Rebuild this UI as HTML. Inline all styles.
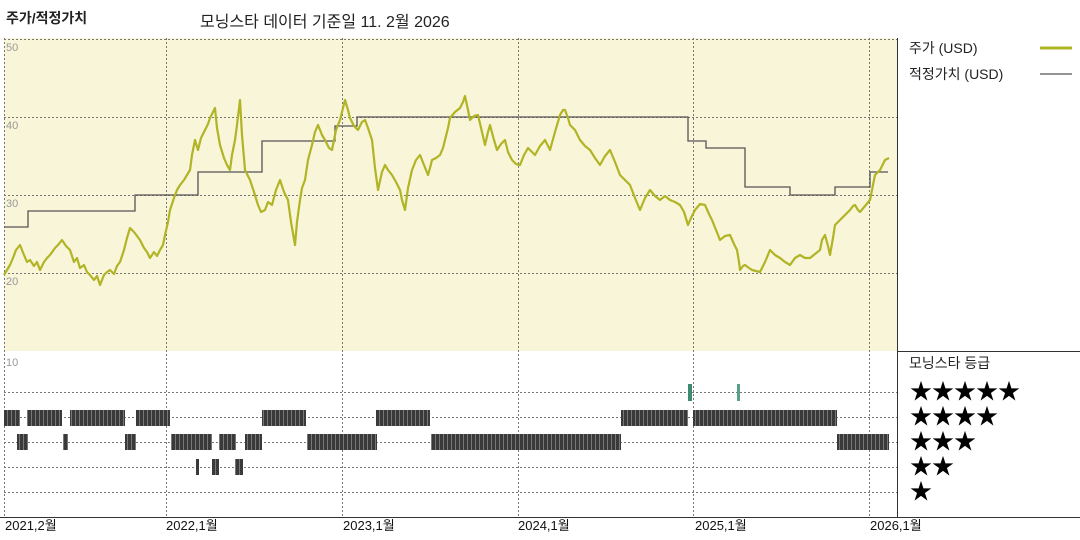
<!DOCTYPE html>
<html><head><meta charset="utf-8"><style>
body{margin:0;width:1080px;height:540px;background:#fff;overflow:hidden;font-family:"Liberation Sans","Noto Sans CJK KR",sans-serif}
</style></head><body>
<svg width="1080" height="540" xmlns="http://www.w3.org/2000/svg" style="position:absolute;left:0;top:0;font-family:'Liberation Sans','Noto Sans CJK KR',sans-serif">
<defs>
<pattern id="st" width="4" height="20" patternUnits="userSpaceOnUse"><rect width="4" height="20" fill="#3a3a3a"/><rect x="3" width="1" height="20" fill="#777"/></pattern>
</defs>
<text x="6" y="23" font-size="14" font-weight="bold" fill="#222">주가/적정가치</text>
<text x="200" y="27" font-size="16" fill="#222">모닝스타 데이터 기준일 11. 2월 2026</text>
<rect x="4" y="38" width="893" height="313" fill="#f8f5d8"/>
<g stroke="#777" stroke-dasharray="2,2" stroke-width="1" fill="none">
<line x1="4" y1="39.5" x2="897" y2="39.5"/><line x1="4" y1="117.5" x2="897" y2="117.5"/><line x1="4" y1="195.5" x2="897" y2="195.5"/><line x1="4" y1="273.5" x2="897" y2="273.5"/>
<line x1="4.5" y1="38" x2="4.5" y2="517"/>
<line x1="166.5" y1="38" x2="166.5" y2="517"/><line x1="342.5" y1="38" x2="342.5" y2="517"/><line x1="518.5" y1="38" x2="518.5" y2="517"/><line x1="693.5" y1="38" x2="693.5" y2="517"/><line x1="869.5" y1="38" x2="869.5" y2="517"/>
<line x1="4" y1="392.5" x2="897" y2="392.5"/><line x1="4" y1="417.5" x2="897" y2="417.5"/><line x1="4" y1="442.5" x2="897" y2="442.5"/><line x1="4" y1="467.5" x2="897" y2="467.5"/><line x1="4" y1="492.5" x2="897" y2="492.5"/>
</g>
<g font-size="11" fill="#999"><text x="6" y="51">50</text><text x="6" y="129">40</text><text x="6" y="207">30</text><text x="6" y="285">20</text><text x="6" y="366">10</text></g>
<line x1="897.5" y1="38" x2="897.5" y2="517" stroke="#333"/>
<line x1="897" y1="351.5" x2="1080" y2="351.5" stroke="#333"/>
<line x1="0" y1="517.5" x2="1080" y2="517.5" stroke="#333"/>
<polyline fill="none" stroke="#555" stroke-width="1.3" points="4,227 28,227 28,211 135,211 135,195 198,195 198,172 262,172 262,141 335,141 335,126 357,126 357,117 688,117 688,141 706,141 706,148 745,148 745,187 790,187 790,195 835,195 835,187 870,187 870,172 888,172"/>
<polyline fill="none" stroke="#b1b425" stroke-width="2.2" stroke-linejoin="round" points="4,275 7,270 10,265 13,258 16,250 20,245 24,255 27,262 30,260 34,266 37,262 40,270 44,262 47,258 50,255 55,248 58,245 62,240 66,246 70,250 74,262 77,258 80,268 84,265 87,272 90,275 94,280 97,276 100,285 104,275 107,272 110,270 114,274 117,266 120,262 124,250 127,238 130,228 134,232 137,236 140,240 144,248 147,252 150,258 154,252 157,256 160,250 163,245 165,235 168,222 170,210 174,198 177,190 180,185 184,180 187,175 190,170 192,155 195,140 198,150 201,138 205,130 208,124 210,118 213,112 215,108 217,128 220,145 224,158 227,165 230,170 232,155 235,140 237,125 240,100 242,135 245,170 248,176 250,180 254,192 258,205 261,212 265,210 268,202 272,205 276,190 280,180 284,192 288,200 291,222 295,245 297,222 300,200 302,188 305,180 308,160 312,145 315,132 318,125 322,135 325,140 329,148 332,150 336,130 340,120 343,108 345,100 348,110 350,118 354,126 358,130 362,122 365,120 368,128 372,140 375,168 378,190 382,172 385,165 388,170 392,175 396,182 400,190 402,200 405,210 408,188 412,170 416,160 420,155 424,165 428,175 430,168 432,160 436,158 440,155 443,148 445,140 448,128 450,118 455,112 460,108 463,102 465,96 468,110 470,120 474,116 478,115 482,132 485,145 488,132 490,125 494,140 497,150 501,144 505,140 508,152 512,160 516,164 520,165 524,155 528,148 532,152 535,155 540,146 545,140 548,146 550,150 555,132 560,115 563,110 565,110 568,118 570,125 575,130 580,140 585,146 590,150 595,158 600,165 605,156 610,150 615,162 620,175 625,180 630,185 635,198 640,210 645,198 650,190 655,196 660,200 665,196 670,200 675,202 680,205 684,212 688,225 691,218 695,210 700,204 705,205 709,214 712,220 716,230 720,240 725,236 730,235 734,244 737,250 739,262 740,270 743,266 745,265 749,268 752,270 756,271 760,272 765,262 770,250 775,255 780,258 785,262 790,265 795,258 800,255 805,258 810,258 815,254 820,250 822,240 825,235 828,246 830,255 833,238 835,225 838,222 840,220 843,217 845,215 848,212 850,210 853,206 855,205 858,210 860,212 865,206 870,200 873,185 875,175 878,172 880,170 883,164 885,160 889,158"/>
<g fill="url(#st)">
<rect x="4" y="410" width="16" height="16"/><rect x="27" y="410" width="35" height="16"/><rect x="70" y="410" width="55" height="16"/><rect x="136" y="410" width="34" height="16"/><rect x="262" y="410" width="44" height="16"/><rect x="376" y="410" width="54" height="16"/><rect x="621" y="410" width="67" height="16"/><rect x="693" y="410" width="144" height="16"/>
<rect x="17" y="434" width="11" height="16"/><rect x="63" y="434" width="5" height="16"/><rect x="125" y="434" width="11" height="16"/><rect x="171" y="434" width="41" height="16"/><rect x="219" y="434" width="17" height="16"/><rect x="245" y="434" width="17" height="16"/><rect x="307" y="434" width="70" height="16"/><rect x="431" y="434" width="190" height="16"/><rect x="837" y="434" width="52" height="16"/>
<rect x="196" y="459" width="3" height="16"/><rect x="212" y="459" width="7" height="16"/><rect x="235" y="459" width="8" height="16"/>
</g>
<rect x="688" y="384" width="4" height="17" fill="#3d8a6e"/><rect x="737" y="384" width="3" height="17" fill="#5aa088"/>
<g font-size="14" fill="#222"><text x="909" y="53">주가 (USD)</text><text x="909" y="79">적정가치 (USD)</text><text x="909" y="368">모닝스타 등급</text></g>
<line x1="1040" y1="48" x2="1072" y2="48" stroke="#b1b425" stroke-width="3"/>
<line x1="1040" y1="74" x2="1072" y2="74" stroke="#555" stroke-width="1.3"/>
<g font-size="22" fill="#000"><text x="910" y="399">★★★★★</text><text x="910" y="424">★★★★</text><text x="910" y="449">★★★</text><text x="910" y="474">★★</text><text x="910" y="499">★</text></g>
<g font-size="13" fill="#111"><text x="5" y="530">2021,2월</text><text x="166" y="530">2022,1월</text><text x="343" y="530">2023,1월</text><text x="518" y="530">2024,1월</text><text x="695" y="530">2025,1월</text><text x="870" y="530">2026,1월</text></g>
</svg>
</body></html>
